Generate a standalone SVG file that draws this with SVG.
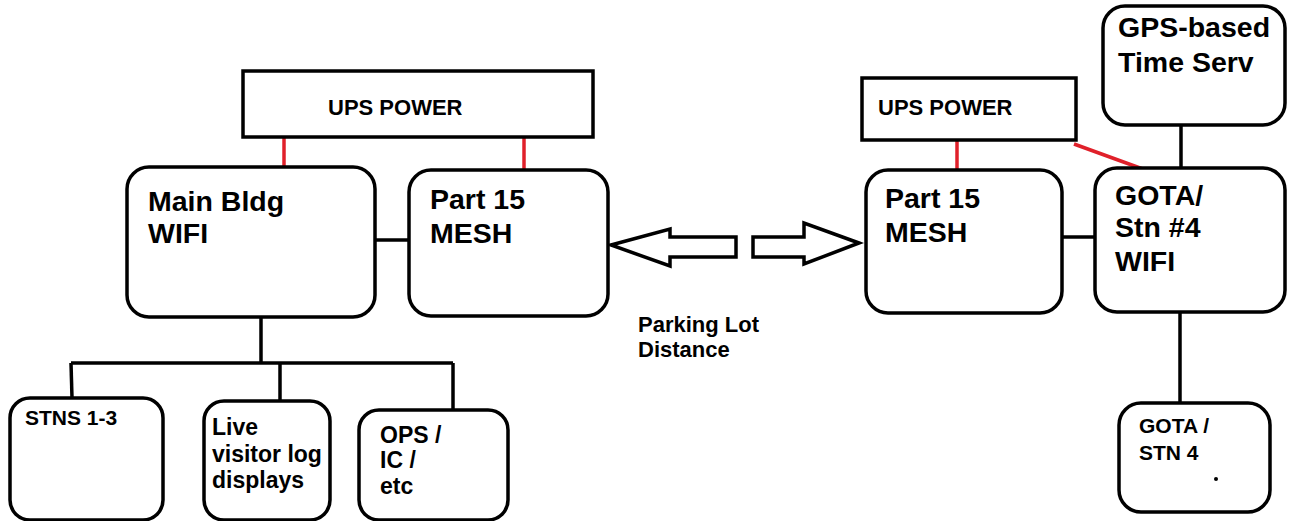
<svg xmlns="http://www.w3.org/2000/svg" width="1289" height="521" viewBox="0 0 1289 521">
<style>
.box{fill:#fff;stroke:#000;stroke-width:3.5}
.ln{stroke:#000;stroke-width:3.5;fill:none}
.red{stroke:#e0202a;stroke-width:3.5;fill:none}
.t{font-family:"Liberation Sans",Arial,sans-serif;font-weight:bold;fill:#000}
.big{font-size:28.5px}
.mid{font-size:22px}
.lv{font-size:23px}
.sm{font-size:21px}
</style>
<rect width="1289" height="521" fill="#fff"/>
<g id="connectors">
<line class="red" x1="284" y1="137" x2="284" y2="168"/>
<line class="red" x1="524" y1="137" x2="524" y2="171"/>
<line class="red" x1="957" y1="140" x2="957" y2="170"/>
<line class="red" x1="1074" y1="144" x2="1151" y2="172"/>
<line class="ln" x1="375" y1="240" x2="409" y2="240"/>
<line class="ln" x1="1062" y1="237" x2="1095" y2="237"/>
<line class="ln" x1="1181" y1="125" x2="1181" y2="168"/>
<line class="ln" x1="1180" y1="312" x2="1180" y2="403"/>
<line class="ln" x1="261" y1="317" x2="261" y2="363"/>
<line class="ln" x1="71" y1="363" x2="453" y2="363"/>
<line class="ln" x1="71" y1="363" x2="72" y2="398"/>
<line class="ln" x1="280" y1="363" x2="280" y2="401"/>
<line class="ln" x1="453" y1="363" x2="453" y2="410"/>
<polygon class="box" points="611,245 670,229 670,237 736,237 736,257 670,257 670,266"/>
<polygon class="box" points="859,243 804,223 804,237 753,237 753,257 804,257 804,264"/>
</g>
<g id="ups-left"><rect class="box" x="243" y="71" width="350" height="66"/><text class="t mid" x="328" y="115">UPS POWER</text></g>
<g id="main-bldg"><rect class="box" x="127" y="167" width="248" height="150" rx="22"/><text class="t big" x="148" y="211">Main Bldg</text><text class="t big" x="148" y="243">WIFI</text></g>
<g id="mesh-left"><rect class="box" x="409" y="170" width="199" height="146" rx="22"/><text class="t big" x="430" y="209">Part 15</text><text class="t big" x="430" y="243">MESH</text></g>
<g id="parking"><text class="t mid" x="638" y="332">Parking Lot</text><text class="t mid" x="638" y="357">Distance</text></g>
<g id="ups-right"><rect class="box" x="862" y="78" width="214" height="62"/><text class="t mid" x="878" y="115">UPS POWER</text></g>
<g id="gps"><rect class="box" x="1103" y="6" width="182" height="119" rx="22"/><text class="t big" x="1118" y="37">GPS-based</text><text class="t big" x="1118" y="72">Time Serv</text></g>
<g id="mesh-right"><rect class="box" x="866" y="170" width="196" height="143" rx="22"/><text class="t big" x="885" y="208">Part 15</text><text class="t big" x="885" y="242">MESH</text></g>
<g id="gota-wifi"><rect class="box" x="1095" y="168" width="190" height="144" rx="22"/><text class="t big" x="1115" y="205">GOTA/</text><text class="t big" x="1115" y="237">Stn #4</text><text class="t big" x="1115" y="271">WIFI</text></g>
<g id="gota-stn4"><rect class="box" x="1119" y="403" width="151" height="109" rx="22"/><text class="t sm" x="1139" y="433">GOTA /</text><text class="t sm" x="1139" y="460">STN 4</text><circle cx="1216" cy="479" r="2" fill="#000"/></g>
<g id="stns"><rect class="box" x="10" y="398" width="153" height="122" rx="20"/><text class="t sm" x="25" y="425">STNS 1-3</text></g>
<g id="live"><rect class="box" x="204" y="401" width="126" height="119" rx="20"/><text class="t lv" x="212" y="435">Live</text><text class="t lv" x="212" y="462">visitor log</text><text class="t lv" x="212" y="488">displays</text></g>
<g id="ops"><rect class="box" x="359" y="410" width="149" height="110" rx="20"/><text class="t lv" x="380" y="443">OPS /</text><text class="t lv" x="380" y="468">IC /</text><text class="t lv" x="380" y="494">etc</text></g>
</svg>
